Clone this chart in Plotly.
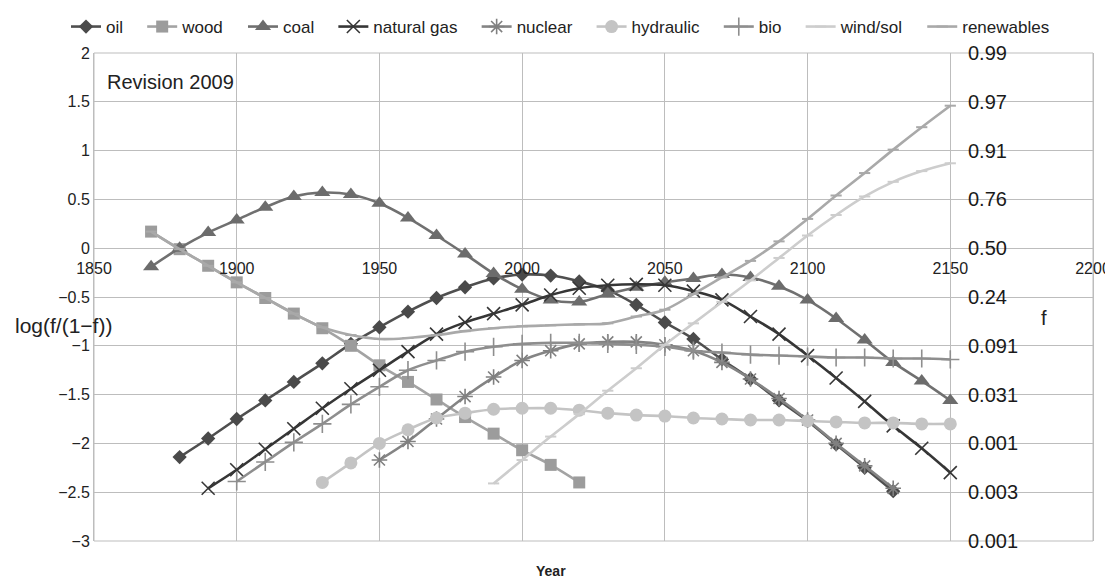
import plotly.graph_objects as go

# ---------------- data ----------------
oil_years = list(range(1880, 2131, 10))
oil = [-2.14, -1.95, -1.75, -1.56, -1.37, -1.18, -0.98, -0.81, -0.65, -0.51, -0.40, -0.31, -0.27,
       -0.28, -0.34, -0.43, -0.58, -0.76, -0.93, -1.14, -1.34, -1.56, -1.77, -2.01, -2.25, -2.49]

wood_years = list(range(1870, 2021, 10))
wood = [0.17, -0.01, -0.18, -0.35, -0.51, -0.67, -0.82, -1.00, -1.20, -1.37, -1.55, -1.73, -1.90,
        -2.07, -2.22, -2.40]

coal_years = list(range(1870, 2151, 10))
coal = [-0.19, 0.00, 0.16, 0.29, 0.42, 0.53, 0.57, 0.55, 0.46, 0.31, 0.13, -0.06, -0.26, -0.42,
        -0.53, -0.55, -0.47, -0.40, -0.35, -0.31, -0.27, -0.30, -0.39, -0.53, -0.72, -0.94, -1.17,
        -1.36, -1.56]

gas_years = list(range(1890, 2151, 10))
gas = [-2.46, -2.27, -2.06, -1.85, -1.64, -1.44, -1.25, -1.06, -0.88, -0.76, -0.67, -0.58, -0.48,
       -0.41, -0.38, -0.37, -0.38, -0.44, -0.53, -0.70, -0.88, -1.10, -1.33, -1.57, -1.82, -2.05,
       -2.30]

nuclear_years = list(range(1950, 2131, 10))
nuclear = [-2.17, -1.98, -1.75, -1.52, -1.32, -1.15, -1.05, -0.98, -0.96, -0.96, -0.99, -1.05,
           -1.17, -1.34, -1.54, -1.76, -2.00, -2.23, -2.46]

hydro_years = list(range(1930, 2151, 10))
hydro = [-2.40, -2.20, -2.00, -1.86, -1.74, -1.69, -1.65, -1.64, -1.64, -1.66, -1.69, -1.71, -1.72,
         -1.74, -1.75, -1.76, -1.76, -1.77, -1.78, -1.79, -1.79, -1.80, -1.80]

bio_years = list(range(1900, 2151, 10))
bio = [-2.39, -2.19, -1.99, -1.80, -1.60, -1.42, -1.25, -1.15, -1.06, -1.01, -0.98, -0.97, -0.97,
       -0.98, -0.99, -1.01, -1.05, -1.07, -1.09, -1.10, -1.11, -1.12, -1.12, -1.13, -1.13, -1.14]

windsol_years = list(range(1990, 2151, 10))
windsol = [-2.41, -2.17, -1.93, -1.70, -1.46, -1.23, -0.99, -0.77, -0.55, -0.33, -0.10, 0.13, 0.34,
           0.53, 0.68, 0.79, 0.87]

renew_years = list(range(1870, 2151, 10))
renew = [0.17, -0.01, -0.18, -0.35, -0.51, -0.67, -0.81, -0.89, -0.93, -0.92, -0.89, -0.85, -0.82,
         -0.80, -0.79, -0.78, -0.77, -0.70, -0.63, -0.47, -0.30, -0.13, 0.07, 0.30, 0.54, 0.77,
         1.01, 1.24, 1.46]

left_tickvals = [2, 1.5, 1, 0.5, 0, -0.5, -1, -1.5, -2, -2.5, -3]
right_ticktext = ["0.99", "0.97", "0.91", "0.76", "0.50", "0.24", "0.091", "0.031", "0.001",
                  "0.003", "0.001"]
x_tickvals = [1850, 1900, 1950, 2000, 2050, 2100, 2150, 2200]

FONT = "Liberation Sans, Arial, sans-serif"
PAD = "\u00a0" * 3

series = [
    ("oil", oil_years, oil, "#4f4f4f", "#4a4a4a", "diamond", 11, 0),
    ("wood", wood_years, wood, "#a3a3a3", "#9c9c9c", "square", 12, 0),
    ("coal", coal_years, coal, "#707070", "#6c6c6c", "triangle-up", 14, 0),
    ("natural gas", gas_years, gas, "#363636", "#363636", "x-thin-open", 13, 1.6),
    ("nuclear", nuclear_years, nuclear, "#848484", "#808080", "asterisk-open", 13, 1.6),
    ("hydraulic", hydro_years, hydro, "#c4c4c4", "#c4c4c4", "circle", 13, 0),
    ("bio", bio_years, bio, "#8e8e8e", "#8e8e8e", "cross-thin-open", 13, 1.6),
    ("wind/sol", windsol_years, windsol, "#cdcdcd", "#cdcdcd", "line-ew-open", 8, 2),
    ("renewables", renew_years, renew, "#a9a9a9", "#a9a9a9", "line-ew-open", 8, 2),
]

fig = go.Figure()
for name, xs, ys, lc, mc, sym, size, mlw in series:
    marker = dict(symbol=sym, size=size, color=mc)
    if mlw:
        marker["line"] = dict(width=mlw, color=mc)
    fig.add_trace(go.Scatter(
        x=xs, y=ys, name=name + PAD, mode="lines+markers",
        line=dict(color=lc, width=2.6, shape="spline", smoothing=1),
        marker=marker,
    ))

# right-hand "f" scale labels (drawn inside the plot area, as in the original)
for val, txt in zip(left_tickvals, right_ticktext):
    fig.add_annotation(x=2155.5, y=val, xref="x", yref="y", text=txt, showarrow=False,
                       xanchor="left", yanchor="middle",
                       font=dict(family=FONT, size=20, color="#1a1a1a"))

# the page body has an 8px margin: the figure is sized/positioned to compensate
OFF = 8
W, H = 1113 - OFF, 579 - OFF
L, R, T, B = 94 - OFF, 20, 53 - OFF, 38
pw, ph = W - L - R, H - T - B


def px_x(page_x):
    return (page_x - OFF - L) / pw


def px_y(page_y):
    return 1 - (page_y - OFF - T) / ph


fig.add_annotation(x=1854, y=1.7, xref="x", yref="y", text="Revision 2009", showarrow=False,
                   xanchor="left", yanchor="middle", font=dict(family=FONT, size=20, color="#222"))
fig.add_annotation(x=px_x(13), y=px_y(325), xref="paper", yref="paper",
                   text="log(f/(1\u2212f))", showarrow=False, xanchor="left", yanchor="middle",
                   font=dict(family=FONT, size=21, color="#222"))
fig.add_annotation(x=2183, y=-0.72, xref="x", yref="y", text="f", showarrow=False,
                   xanchor="center", yanchor="middle", font=dict(family=FONT, size=20, color="#222"))
fig.add_annotation(x=2010, y=px_y(571), xref="x", yref="paper", text="<b>Year</b>",
                   showarrow=False, xanchor="center", yanchor="middle",
                   font=dict(family=FONT, size=14, color="#222"))

fig.update_layout(
    width=W, height=H,
    margin=dict(l=L, r=R, t=T, b=B, autoexpand=False),
    paper_bgcolor="white", plot_bgcolor="white",
    font=dict(family=FONT, size=16, color="#222"),
    showlegend=True,
    legend=dict(orientation="h", xref="container", yref="container", x=58 / W, y=1 - 19 / H,
                xanchor="left", yanchor="middle", font=dict(family=FONT, size=17, color="#222"),
                itemwidth=30, tracegroupgap=0, bgcolor="rgba(0,0,0,0)"),
    xaxis=dict(range=[1850, 2200], tickvals=x_tickvals, showgrid=True, gridcolor="#bdbdbd",
               gridwidth=1, zeroline=False, anchor="free", position=0.6, ticks="outside",
               ticklen=6, tickcolor="rgba(0,0,0,0)", showline=False, automargin=False,
               ticklabeloverflow="allow",
               tickfont=dict(family=FONT, size=16, color="#222")),
    yaxis=dict(range=[-3, 2], tickvals=left_tickvals, showgrid=True, gridcolor="#bdbdbd",
               gridwidth=1, zeroline=False, showline=True, linecolor="#bdbdbd", mirror=True,
               ticks="", automargin=False, tickfont=dict(family=FONT, size=16, color="#222")),
)
fig.add_shape(type="rect", xref="paper", yref="paper", x0=0, y0=0, x1=1, y1=1,
              line=dict(color="#bdbdbd", width=1), layer="below")

fig.write_html("out.html")
